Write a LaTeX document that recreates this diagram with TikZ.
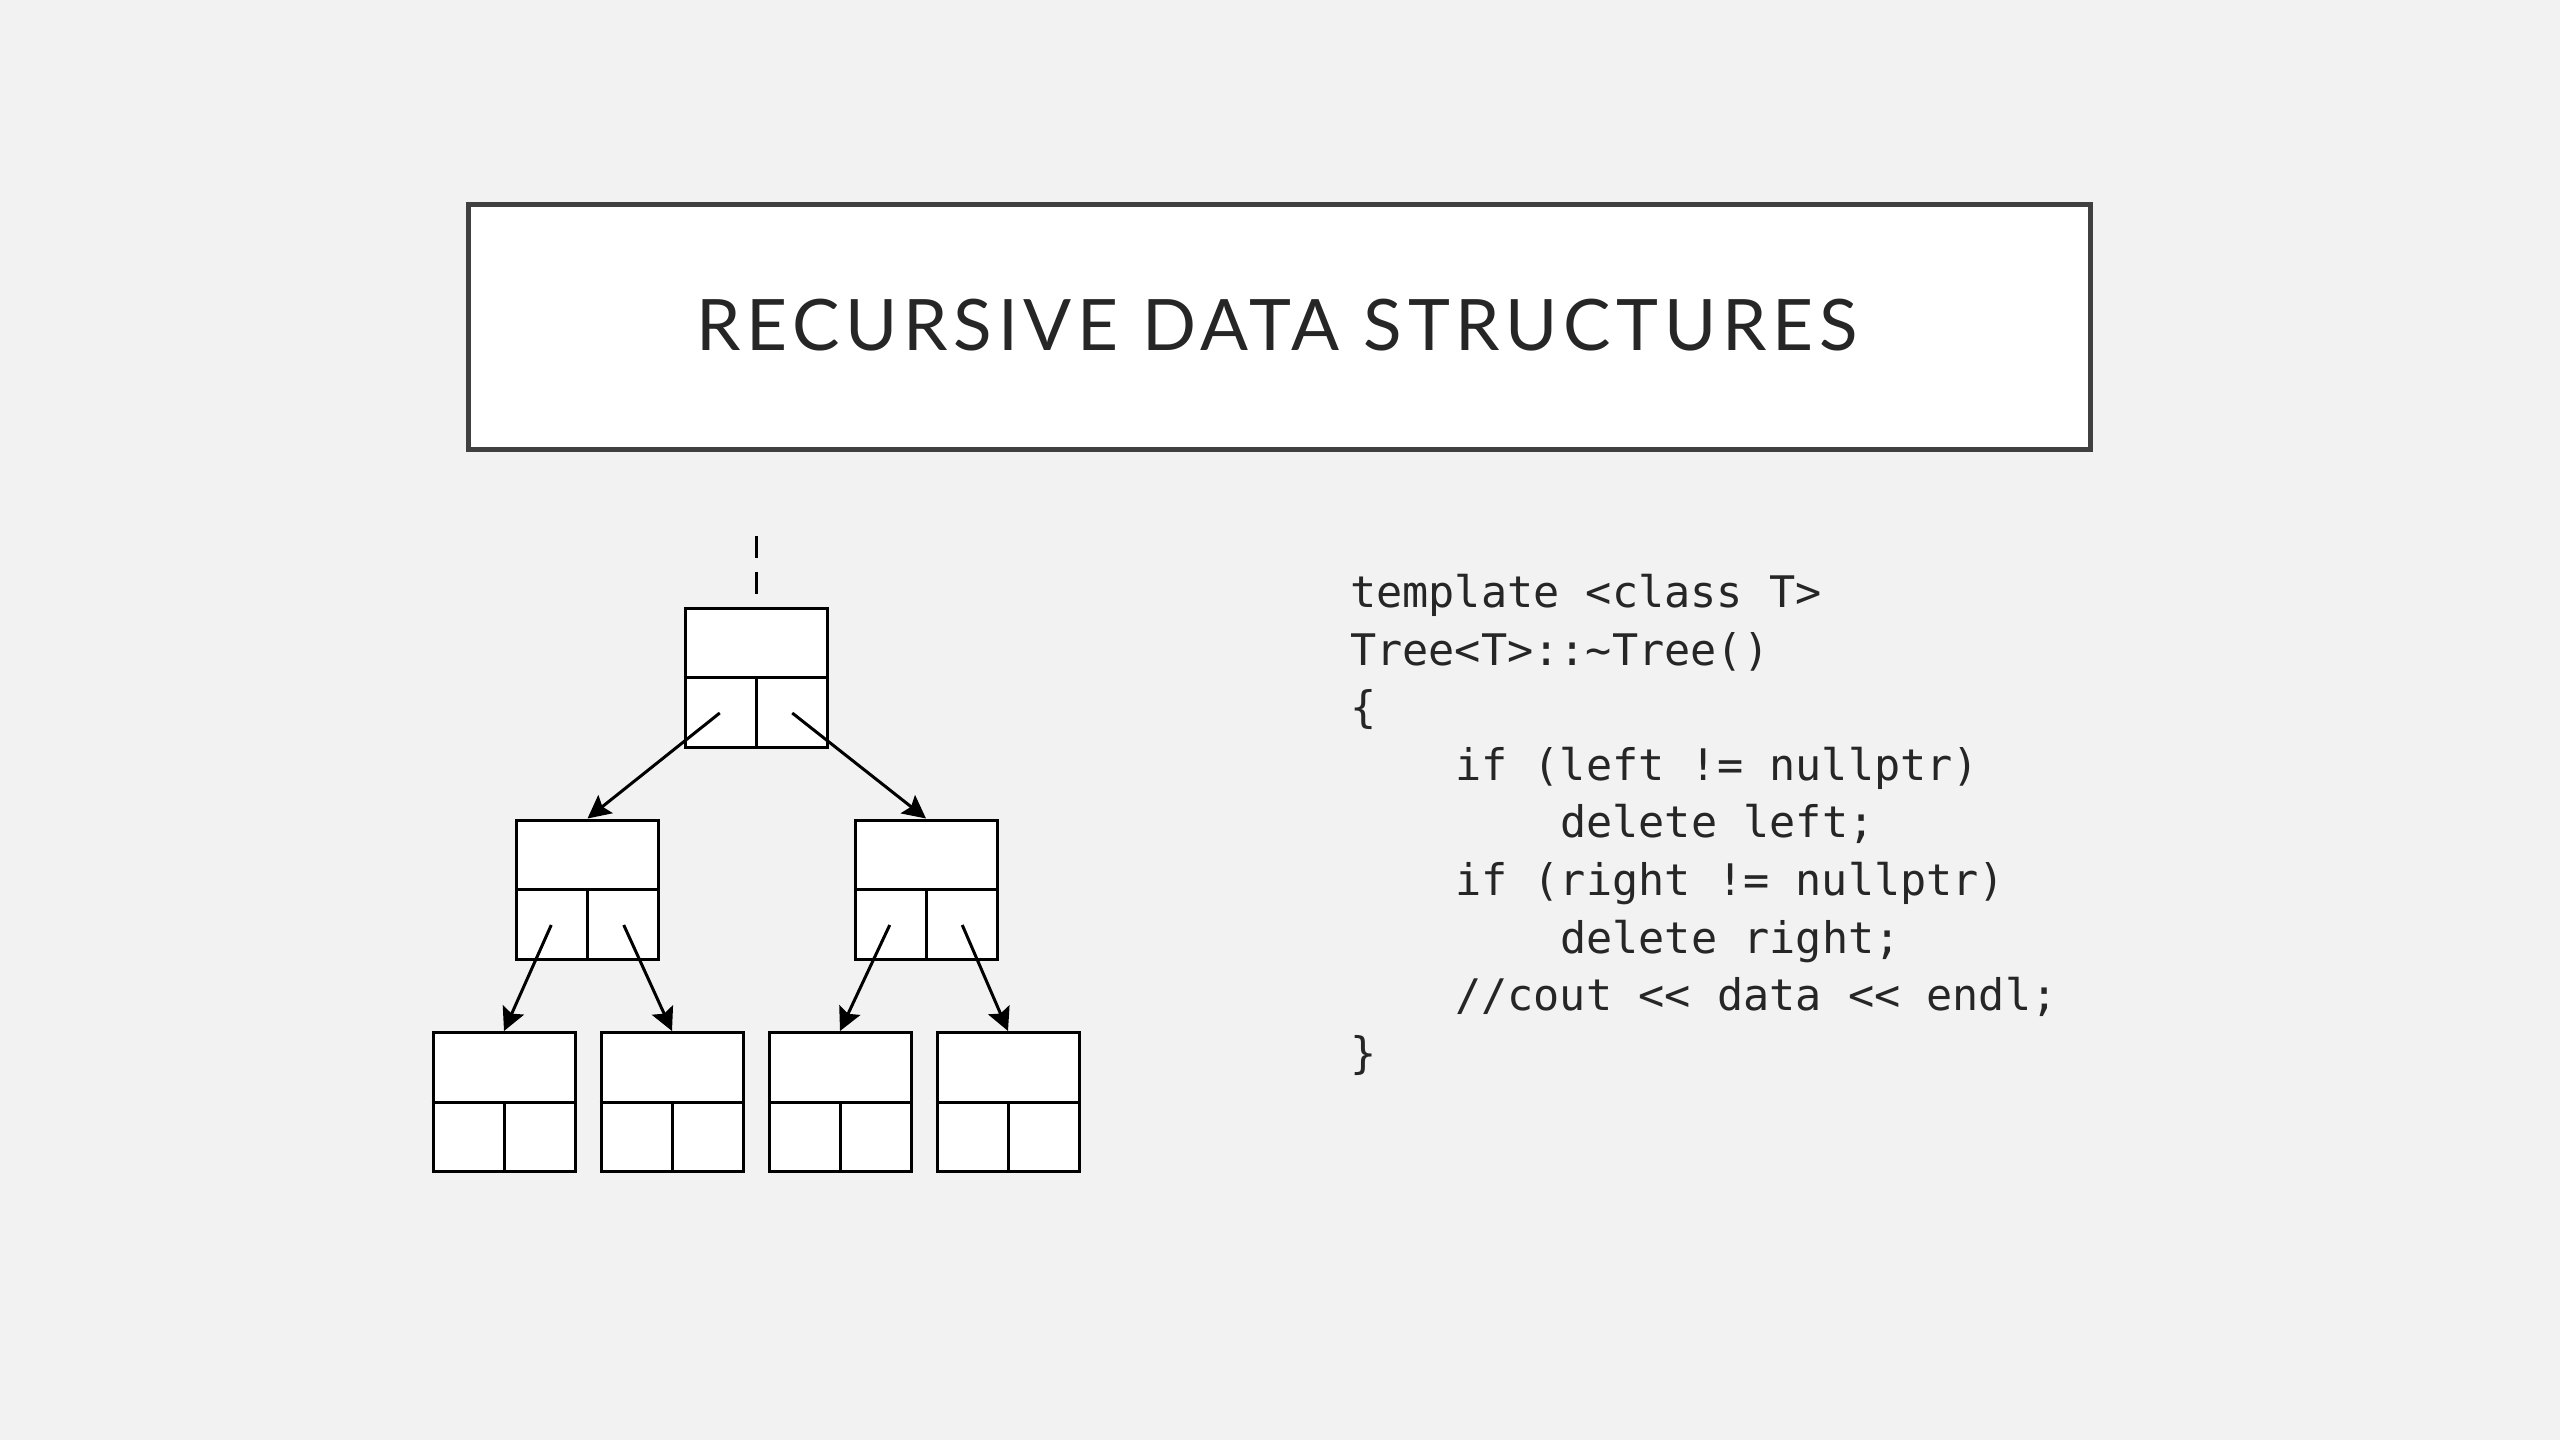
\documentclass[tikz,border=0pt]{standalone}
\usepackage{fontspec}
\usetikzlibrary{arrows.meta,calc}
\newfontfamily\titlefont{Lato}[LetterSpace=8]
\newfontfamily\codefont{DejaVu Sans Mono}
\definecolor{bg}{HTML}{F2F2F2}
\definecolor{ink}{HTML}{262626}
\definecolor{frame}{HTML}{404040}
\tikzset{
  cellbox/.style={draw=black, fill=white, line width=3pt, minimum width=142pt, minimum height=139pt, inner sep=0pt},
  divider/.style={draw=black, line width=3pt},
  ptr/.style={draw=black, line width=3pt, -{Stealth[length=23pt,width=23pt,inset=4pt]}},
  codeline/.style={anchor=base west, inner sep=0pt, text=ink, font=\codefont\fontsize{43.5}{50}\selectfont},
}
\newcommand{\splitbox}[1]{%
  \draw[divider] (#1.west) -- (#1.east);
  \draw[divider] (#1.center) -- (#1.south);
}
\begin{document}
\begin{tikzpicture}[x=1pt,y=-1pt]
\fill[bg] (0,0) rectangle (2560,1440);
\useasboundingbox (0,0) rectangle (2560,1440);

% title
\node[draw=frame, fill=white, line width=5.5pt, minimum width=1622pt, minimum height=245pt, inner sep=0pt] (tbox) at (1279.5,327) {};
\node[anchor=base, inner sep=0pt, text=ink, font=\titlefont\fontsize{71}{71}\selectfont] (title) at (1277,350) {RECURSIVE DATA STRUCTURES};

% tree
\node[cellbox] (root) at (756,677.5) {};
\node[cellbox] (l) at (587.5,889.5) {};
\node[cellbox] (r) at (926,889.5) {};
\node[cellbox] (ll) at (504,1102) {};
\node[cellbox] (lr) at (672,1102) {};
\node[cellbox] (rl) at (840,1102) {};
\node[cellbox] (rr) at (1008,1102) {};
\foreach \b in {root,l,r,ll,lr,rl,rr} {\splitbox{\b}}

\coordinate (top) at (756,536);
\draw[line width=3pt, dash pattern=on 22pt off 14pt] (top) -- (root.north);

\draw[ptr] ($(root.center)!0.5!(root.south west)$) -- (l.north);
\draw[ptr] ($(root.center)!0.5!(root.south east)$) -- (r.north);
\draw[ptr] ($(l.center)!0.5!(l.south west)$) -- (ll.north);
\draw[ptr] ($(l.center)!0.5!(l.south east)$) -- (lr.north);
\draw[ptr] ($(r.center)!0.5!(r.south west)$) -- (rl.north);
\draw[ptr] ($(r.center)!0.5!(r.south east)$) -- (rr.north);

% code
\node[codeline] (c1) at (1350,607) {template <class T>};
\node[codeline] (c2) at (1350,665) {Tree<T>::\textasciitilde Tree()};
\node[codeline] (c3) at (1350,722) {\{};
\node[codeline] (c4) at (1455,780) {if (left != nullptr)};
\node[codeline] (c5) at (1560,837) {delete left;};
\node[codeline] (c6) at (1455,895) {if (right != nullptr)};
\node[codeline] (c7) at (1560,953) {delete right;};
\node[codeline] (c8) at (1455,1010) {//cout <{}< data <{}< endl;};
\node[codeline] (c9) at (1350,1068) {\}};
\end{tikzpicture}
\end{document}
